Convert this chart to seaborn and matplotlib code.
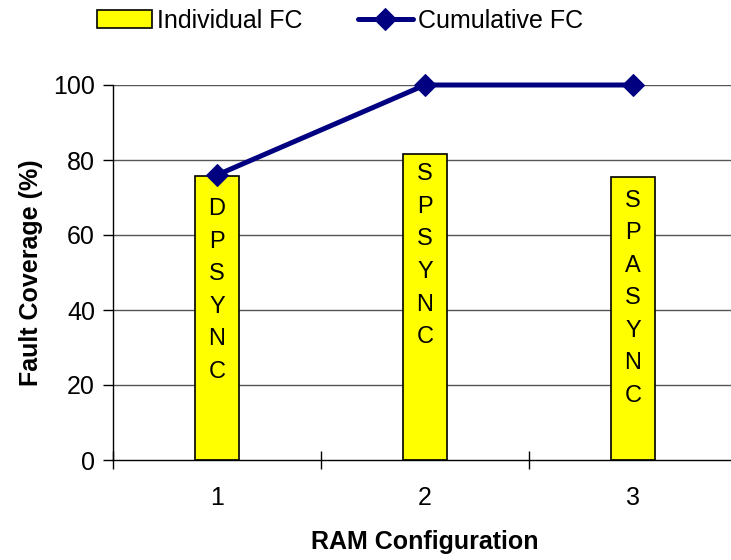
import matplotlib
matplotlib.use("Agg")
import matplotlib.pyplot as plt
import seaborn as sns
import pandas as pd
from matplotlib.ticker import FixedLocator

# ---- data ----
configs = [1, 2, 3]
individual_fc = [75.8, 81.7, 75.4]
cumulative_fc = [76.0, 100.0, 100.0]
bar_labels = ["DPSYNC", "SPSYNC", "SPASYNC"]
y_ticks = [0, 20, 40, 60, 80, 100]

sns.set_theme(style="white")
plt.rcParams["font.family"] = ["Liberation Sans", "DejaVu Sans"]
plt.rcParams["text.color"] = "black"
plt.rcParams["axes.labelcolor"] = "black"
plt.rcParams["xtick.color"] = "black"
plt.rcParams["ytick.color"] = "black"

df = pd.DataFrame({"config": configs, "individual": individual_fc,
                   "cumulative": cumulative_fc, "label": bar_labels})

fig = plt.figure(figsize=(7.31, 5.60), dpi=100)
ax = fig.add_axes([113 / 731, 1 - 460 / 560, (737 - 113) / 731, (460 - 85) / 560])

# grid
for yt in y_ticks[1:]:
    ax.axhline(yt, color="#555555", linewidth=1.0, zorder=0)

sns.barplot(data=df, x="config", y="individual", native_scale=True, width=0.21,
            color="#FFFF00", edgecolor="black", linewidth=1.2, saturation=1,
            ax=ax, zorder=2, label="Individual FC")
sns.lineplot(data=df, x="config", y="cumulative", color="#000080", linewidth=3.6,
             marker="D", markersize=11, markeredgecolor="#000080", ax=ax,
             zorder=4, label="Cumulative FC", clip_on=False)

# vertical stacked letter labels in bars
offsets = [16, 7, 9]
for x, v, lab, off in zip(configs, individual_fc, bar_labels, offsets):
    ax.annotate("\n".join(lab), xy=(x, v), xytext=(0, -off), textcoords="offset points",
                ha="center", va="top", fontsize=17, linespacing=1.62, zorder=3,
                color="black")

ax.set_xlim(0.5, 3.5)
ax.set_ylim(0, 100)
ax.set_yticks(y_ticks)
ax.set_xticks(configs)
ax.set_xticklabels([str(c) for c in configs])
ax.xaxis.set_minor_locator(FixedLocator([0.5, 1.5, 2.5, 3.5]))
ax.tick_params(axis="x", which="major", length=0, pad=19, labelsize=18)
ax.tick_params(axis="x", which="minor", direction="inout", length=13, width=1,
               color="black", bottom=True)
ax.tick_params(axis="y", which="major", direction="out", length=7, width=1, pad=6,
               labelsize=18, left=True, color="black")

for s in ["top", "right"]:
    ax.spines[s].set_visible(False)
for s in ["left", "bottom"]:
    ax.spines[s].set_color("black")
    ax.spines[s].set_linewidth(1.0)

ax.set_xlabel("RAM Configuration", fontsize=18, fontweight="bold", labelpad=14)
ax.set_ylabel("Fault Coverage (%)", fontsize=18, fontweight="bold", labelpad=7)

handles, labels = ax.get_legend_handles_labels()
ax.get_legend().remove()
order = [labels.index("Individual FC"), labels.index("Cumulative FC")]
fig.legend([handles[i] for i in order], [labels[i] for i in order],
           loc="upper center", bbox_to_anchor=(0.465, 1.025), ncol=2,
           frameon=False, fontsize=18, handlelength=2.2, handletextpad=0.2,
           columnspacing=2.2)

fig.savefig("out.png", dpi=100)
